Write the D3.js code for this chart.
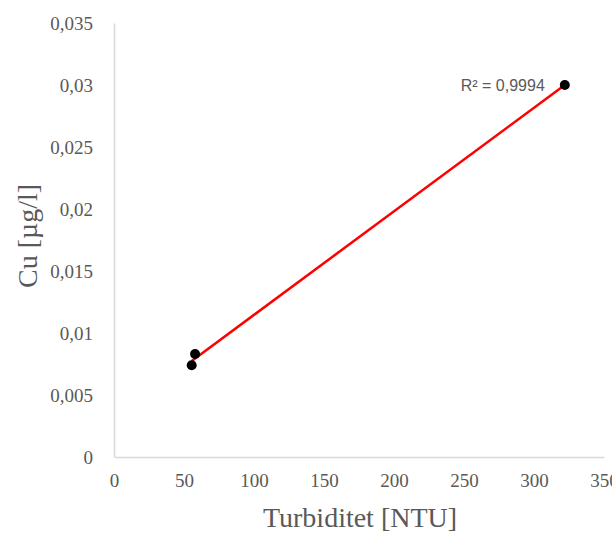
<!DOCTYPE html>
<html>
<head>
<meta charset="utf-8">
<script src="https://cdn.jsdelivr.net/npm/d3@7"></script>
<style>
html,body{margin:0;padding:0;background:#fff;}
svg{display:block;}
</style>
</head>
<body>
<svg id="chart" width="612" height="536"></svg>
<script>
const turbidity = [57.9, 55.5, 322];
const copper = [0.0083, 0.0074, 0.0300];
const xTicks = [0, 50, 100, 150, 200, 250, 300, 350];
const yTicks = [0, 0.005, 0.01, 0.015, 0.02, 0.025, 0.03, 0.035];
const xTitle = "Turbiditet [NTU]";
const yTitle = "Cu [µg/l]";
const r2Label = "R² = 0,9994";

(function () {
const svg = d3.select("#chart");
const mLeft = 114, mRight = 604, mTop = 23, mBottom = 457;
const x = d3.scaleLinear().domain([0, 350]).range([mLeft, mRight]);
const y = d3.scaleLinear().domain([0, 0.035]).range([mBottom, mTop]);
const fmt = d => String(d).replace(".", ",");
const grey = "#595959";
const axisCol = "#d9d9d9";

// axes
const xAxis = svg.append("g").attr("transform", `translate(0,${mBottom})`)
  .call(d3.axisBottom(x).tickValues(xTicks).tickSize(0).tickPadding(17).tickFormat(d => String(d)));
const yAxis = svg.append("g").attr("transform", `translate(${mLeft},0)`)
  .call(d3.axisLeft(y).tickValues(yTicks).tickSize(0).tickPadding(21).tickFormat(d => d === 0 ? "0" : fmt(+d.toFixed(3))));
[xAxis, yAxis].forEach(g => {
  g.select(".domain").attr("stroke", axisCol).attr("stroke-width", 1.5);
  g.selectAll("text").attr("fill", grey).attr("font-family", "'Liberation Serif', 'Times New Roman', serif").attr("font-size", 19);
});

// trendline (least squares)
const n = turbidity.length;
const mx = d3.mean(turbidity), my = d3.mean(copper);
let sxy = 0, sxx = 0;
for (let i = 0; i < n; i++) { sxy += (turbidity[i]-mx)*(copper[i]-my); sxx += (turbidity[i]-mx)**2; }
const slope = sxy / sxx, icpt = my - slope * mx;
const [xmin, xmax] = d3.extent(turbidity);
svg.append("line")
  .attr("x1", x(xmin)).attr("y1", y(icpt + slope * xmin))
  .attr("x2", x(xmax)).attr("y2", y(icpt + slope * xmax))
  .attr("stroke", "#ff0000").attr("stroke-width", 2.5);

// points
svg.append("g").selectAll("circle").data(turbidity).join("circle")
  .attr("cx", (d) => x(d)).attr("cy", (d, i) => y(copper[i])).attr("r", 5).attr("fill", "#000");

// R² label
svg.append("text").attr("x", x(xmax) - 20).attr("y", y(copper[2]) + 6)
  .attr("text-anchor", "end").attr("fill", grey)
  .attr("font-family", "'Liberation Sans', Arial, sans-serif").attr("font-size", 16)
  .text(r2Label);

// titles
svg.append("text").attr("x", 360).attr("y", 527).attr("text-anchor", "middle")
  .attr("fill", grey).attr("font-family", "'Liberation Serif', 'Times New Roman', serif").attr("font-size", 28)
  .text(xTitle);
svg.append("text").attr("transform", "translate(37,236) rotate(-90)").attr("text-anchor", "middle")
  .attr("fill", grey).attr("font-family", "'Liberation Serif', 'Times New Roman', serif").attr("font-size", 28)
  .text(yTitle);
})();
</script>
</body>
</html>
